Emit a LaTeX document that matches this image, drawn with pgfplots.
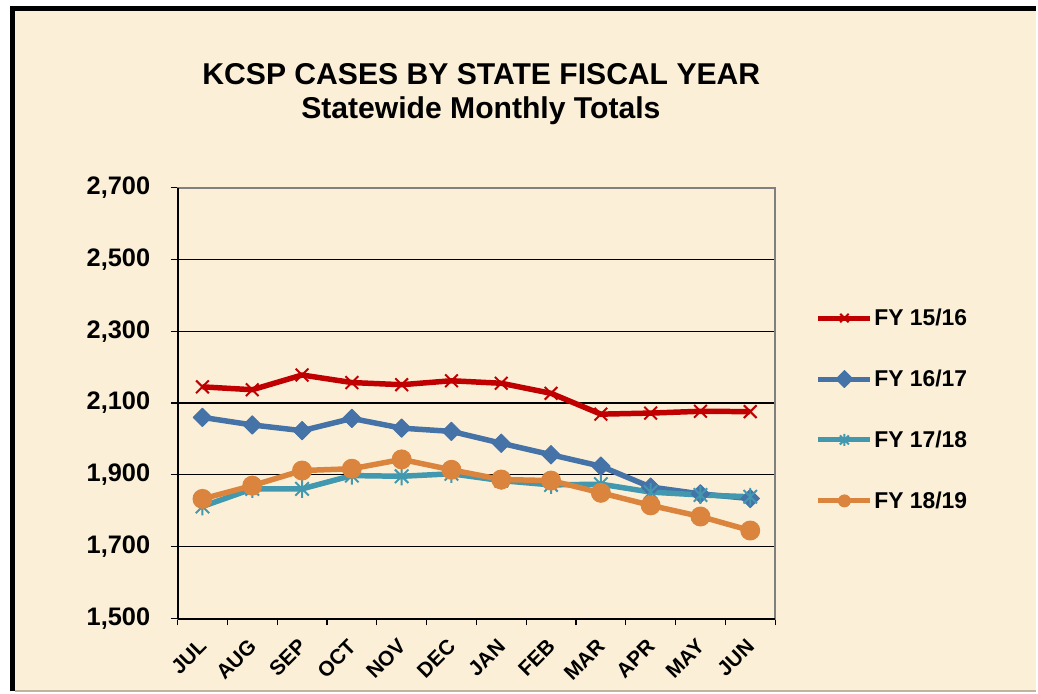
\documentclass[border=0pt]{standalone}
\usepackage{fontspec}
\setmainfont{Liberation Sans}
\usepackage{pgfplots}
\pgfplotsset{compat=1.18}
\definecolor{bg}{RGB}{251,240,215}
\definecolor{cred}{RGB}{192,0,0}
\definecolor{cblue}{RGB}{69,114,167}
\definecolor{cteal}{RGB}{65,152,175}
\definecolor{corange}{RGB}{219,132,61}
\pgfdeclareplotmark{xstar}{%
  \pgfpathmoveto{\pgfqpoint{-.75\pgfplotmarksize}{-.75\pgfplotmarksize}}%
  \pgfpathlineto{\pgfqpoint{.75\pgfplotmarksize}{.75\pgfplotmarksize}}%
  \pgfpathmoveto{\pgfqpoint{-.75\pgfplotmarksize}{.75\pgfplotmarksize}}%
  \pgfpathlineto{\pgfqpoint{.75\pgfplotmarksize}{-.75\pgfplotmarksize}}%
  \pgfpathmoveto{\pgfqpoint{0pt}{-\pgfplotmarksize}}%
  \pgfpathlineto{\pgfqpoint{0pt}{\pgfplotmarksize}}%
  \pgfusepathqstroke}
\begin{document}
\begin{tikzpicture}[x=1bp,y=1bp]
\fill[white] (0,0) rectangle (1038,695);
\fill[bg] (13,3) rectangle (1038,686);
\draw[line width=5bp] (12.5,2) -- (12.5,688.5);
\draw[line width=5bp] (10,686) -- (1038,686);
\draw[line width=2bp, color={rgb,255:red,190;green,180;blue,160}] (15,2) -- (1038,2);
\useasboundingbox (0,0) rectangle (1038,695);
\node[font=\fontsize{30.3}{34}\selectfont\bfseries, anchor=base] at (482.5,610) {KCSP CASES BY STATE FISCAL YEAR};
\node[font=\fontsize{30.3}{34}\selectfont\bfseries, anchor=base] at (482,576) {Statewide Monthly Totals};
\begin{axis}[
  at={(178bp,75bp)}, anchor=south west, scale only axis,
  width=599bp, height=432bp,
  xmin=-0.5, xmax=11.5, ymin=1500, ymax=2700,
  ytick={1500,1700,...,2700},
  xtick={-0.5,0.5,...,11.5},
  xticklabels={JUL,AUG,SEP,OCT,NOV,DEC,JAN,FEB,MAR,APR,MAY,JUN},
  x tick label as interval,
  xtick pos=bottom, ytick pos=left,
  ymajorgrids, grid style={black, line width=1.2bp},
  axis line style={color={rgb,255:red,128;green,128;blue,128}, line width=2bp},
  tick align=outside, major tick length=7bp,
  tick style={black, line width=1.2bp},
  /pgf/number format/.cd, fixed, 1000 sep={,}, assume math mode=true,
  /pgfplots/.cd,
  yticklabel style={font=\fontsize{25.5}{25.5}\selectfont\bfseries, xshift=-17bp},
  xticklabel style={font=\fontsize{21}{21}\selectfont\bfseries, xshift=2.7bp, yshift=-15bp, rotate=45, anchor=east},
  legend style={at={(rel axis cs:1.068,0.485)}, anchor=west, draw=none, fill=none,
    font=\fontsize{23}{23}\selectfont\bfseries, row sep=40bp, inner sep=0pt,
    nodes={inner sep=1.5bp}},
  legend cell align=left,
  legend image code/.code={\draw[#1, line width=5bp, mark size=6bp, mark repeat=2, mark phase=2] plot coordinates {(0bp,0bp) (26bp,0bp) (52bp,0bp)};},
  every axis plot/.append style={line width=5.5bp, line join=round},
]
\addplot[cred, mark=x, mark size=9bp, mark options={line width=2bp, solid}]
  coordinates {(0,2145)(1,2137)(2,2178)(3,2157)(4,2151)(5,2162)(6,2155)(7,2127)(8,2069)(9,2072)(10,2077)(11,2076)};
\addplot[cblue, mark=square*, mark size=6.5bp, mark options={rotate=45, line width=1bp}]
  coordinates {(0,2060)(1,2039)(2,2023)(3,2057)(4,2030)(5,2021)(6,1988)(7,1956)(8,1924)(9,1866)(10,1847)(11,1834)};
\addplot[cteal, mark=xstar, mark size=9bp, mark options={line width=2bp}]
  coordinates {(0,1812)(1,1861)(2,1861)(3,1898)(4,1896)(5,1903)(6,1884)(7,1872)(8,1874)(9,1852)(10,1844)(11,1839)};
\addplot[corange, mark=*, mark size=9.5bp, mark options={line width=1bp}]
  coordinates {(0,1833)(1,1870)(2,1912)(3,1917)(4,1943)(5,1914)(6,1887)(7,1884)(8,1850)(9,1815)(10,1784)(11,1745)};
\legend{FY 15/16, FY 16/17, FY 17/18, FY 18/19}
\end{axis}
\draw[black, line width=2bp] (178,75) -- (178,507);
\draw[black, line width=2bp] (178,75) -- (777,75);
\end{tikzpicture}
\end{document}
